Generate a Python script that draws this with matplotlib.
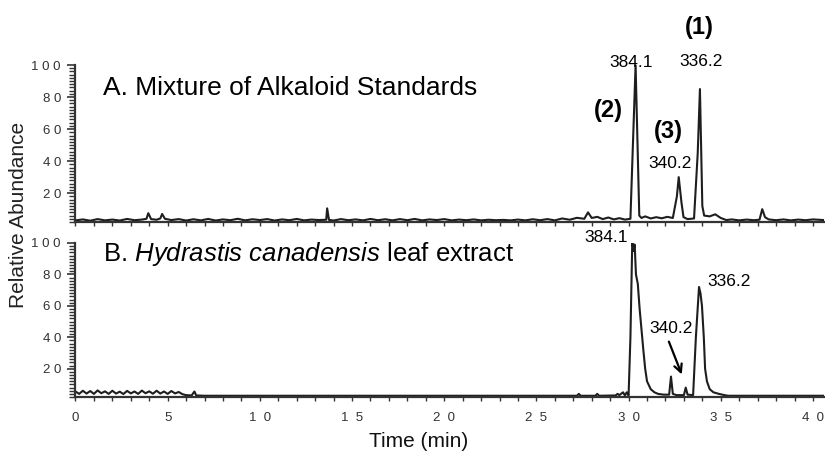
import matplotlib
matplotlib.use("Agg")
import matplotlib.pyplot as plt
from matplotlib.ticker import MultipleLocator, FixedLocator

plt.rcParams['font.family'] = ['Liberation Sans', 'DejaVu Sans']
plt.rcParams['mathtext.fontset'] = 'custom'
plt.rcParams['mathtext.rm'] = 'Liberation Sans'
plt.rcParams['mathtext.it'] = 'Liberation Sans:italic'

# trace A: mixture of alkaloid standards (time in min, relative abundance)
time_a = [0.0, 0.4, 0.8, 1.2, 1.6, 2.0, 2.4, 2.8, 3.2, 3.6,
          3.85, 3.95, 4.1, 4.4, 4.6, 4.7, 4.85, 5.2, 5.6, 6.0,
          6.4, 6.8, 7.2, 7.6, 8.0, 8.4, 8.8, 9.2, 9.6, 10.0,
          10.4, 10.8, 11.2, 11.6, 12.0, 12.4, 12.8, 13.2, 13.6, 13.65,
          13.75, 14.0, 14.4, 14.8, 15.2, 15.6, 16.0, 16.4, 16.8, 17.2,
          17.6, 18.0, 18.4, 18.8, 19.2, 19.6, 20.0, 20.4, 20.8, 21.2,
          21.6, 22.0, 22.4, 22.8, 23.2, 23.6, 24.0, 24.4, 24.8, 25.2,
          25.6, 26.0, 26.4, 26.8, 27.2, 27.6, 27.8, 28.0, 28.3, 28.6,
          28.9, 29.2, 29.5, 29.8, 30.1, 30.38, 30.58, 30.7, 30.9, 31.2,
          31.5, 31.8, 32.1, 32.4, 32.62, 32.72, 32.87, 32.98, 33.2, 33.55,
          33.75, 33.87, 34.0, 34.1, 34.4, 34.7, 35.0, 35.3, 35.6, 36.0,
          36.4, 36.8, 37.1, 37.25, 37.4, 37.6, 38.0, 38.4, 38.8, 39.2,
          39.6, 40.0, 40.6]
abund_a = [3.0, 3.6, 2.8, 3.8, 3.0, 3.5, 2.9, 3.9, 3.1, 3.5,
           4.0, 7.5, 3.8, 3.4, 4.2, 7.0, 4.0, 3.2, 3.8, 2.9,
           3.7, 3.0, 3.9, 2.9, 3.6, 3.1, 4.0, 3.0, 3.7, 3.2,
           3.8, 2.9, 3.6, 3.1, 3.9, 3.0, 3.5, 3.2, 3.4, 10.5,
           3.3, 2.9, 3.8, 3.1, 3.6, 3.0, 3.9, 3.1, 3.7, 3.0,
           3.8, 3.1, 3.9, 3.0, 3.6, 3.2, 3.8, 3.0, 3.5, 3.1,
           3.6, 3.0, 3.4, 3.1, 3.3, 3.0, 3.5, 3.0, 3.7, 3.1,
           3.8, 3.0, 4.2, 3.4, 4.6, 4.0, 8.0, 4.5, 5.2, 3.8,
           4.8, 3.6, 4.4, 3.5, 4.0, 100.0, 6.0, 4.5, 5.5, 4.2,
           5.0, 4.3, 5.2, 4.5, 18.0, 30.0, 14.0, 5.0, 3.8, 4.2,
           45.0, 85.0, 12.0, 6.0, 5.5, 6.8, 4.5, 3.2, 3.6, 3.0,
           3.5, 3.1, 3.4, 10.0, 5.0, 3.6, 3.1, 3.6, 3.0, 3.5,
           3.1, 3.6, 3.2]

# trace B: Hydrastis canadensis leaf extract
time_b = [0.0, 0.2, 0.4, 0.6, 0.8, 1.0, 1.2, 1.4, 1.6, 1.8,
          2.0, 2.2, 2.4, 2.6, 2.8, 3.0, 3.2, 3.4, 3.6, 3.8,
          4.0, 4.2, 4.4, 4.6, 4.8, 5.0, 5.2, 5.4, 5.6, 5.8,
          6.0, 6.3, 6.45, 6.55, 7.0, 10.0, 15.0, 20.0, 25.0, 27.2,
          27.3, 27.4, 28.2, 28.3, 28.4, 29.3, 29.4, 29.5, 29.7, 29.8,
          29.9, 30.0, 30.1, 30.2, 30.27, 30.33, 30.4, 30.5, 30.6, 30.7,
          30.8, 30.9, 31.0, 31.2, 31.4, 31.6, 31.9, 32.2, 32.3, 32.4,
          32.6, 33.0, 33.1, 33.2, 33.5, 33.65, 33.82, 33.9, 33.98, 34.08,
          34.15, 34.25, 34.4, 34.6, 34.9, 35.2, 35.4, 40.6]
abund_b = [5.5, 4.0, 6.0, 4.2, 5.8, 4.0, 6.2, 4.4, 5.6, 4.0,
           6.0, 4.2, 5.4, 3.9, 5.9, 4.3, 5.5, 4.0, 6.1, 4.4,
           5.6, 4.1, 6.0, 4.2, 5.5, 4.0, 5.8, 4.3, 5.2, 3.8,
           3.2, 3.0, 5.5, 3.0, 2.8, 2.8, 2.8, 2.8, 2.8, 2.8,
           4.0, 2.8, 2.8, 4.0, 2.8, 3.0, 4.0, 3.2, 5.0, 3.0,
           5.0, 3.0, 40.0, 101.0, 95.0, 99.0, 80.0, 74.0, 58.0, 45.0,
           32.0, 20.0, 12.0, 7.0, 5.0, 4.0, 3.5, 3.5, 15.0, 4.0,
           3.2, 3.2, 8.0, 3.5, 3.2, 40.0, 72.0, 68.0, 60.0, 40.0,
           20.0, 12.0, 7.0, 5.0, 4.0, 3.2, 2.8, 2.8]

y_ticks = [20, 40, 60, 80, 100]
y_tick_labels = ["2 0", "4 0", "6 0", "8 0", "1 0 0"]
x_ticks = [0, 5, 10, 15, 20, 25, 30, 35, 40]
x_tick_labels = ["0", "5", "1  0", "1  5", "2  0", "2  5", "3  0", "3  5", "4  0"]

line_color = "#1e1e1e"
tick_color = "#333333"

fig = plt.figure(figsize=(8.25, 4.51), dpi=100)
ax_a = fig.add_axes([0.0915, 0.5078, 0.9073, 0.348])
ax_b = fig.add_axes([0.0915, 0.1197, 0.9073, 0.3415])

for ax in (ax_a, ax_b):
    ax.set_xlim(0, 40.6)
    ax.set_ylim(2, 100)
    for side in ("top", "right"):
        ax.spines[side].set_visible(False)
    for side in ("left", "bottom"):
        ax.spines[side].set_linewidth(1.6)
        ax.spines[side].set_color(tick_color)
    ax.yaxis.set_major_locator(FixedLocator(y_ticks))
    ax.yaxis.set_minor_locator(MultipleLocator(2))
    ax.set_yticklabels(y_tick_labels)
    ax.xaxis.set_major_locator(FixedLocator(x_ticks))
    ax.xaxis.set_minor_locator(MultipleLocator(1))
    ax.tick_params(axis="y", which="major", length=6, width=1.2, pad=4.5,
                   labelsize=9.5, colors=tick_color)
    ax.tick_params(axis="y", which="minor", length=4, width=1.0, colors=tick_color)
    ax.tick_params(axis="x", which="both", length=3, width=1.0, pad=7.5,
                   labelsize=9.5, colors=tick_color)

ax_a.set_xticklabels([])
ax_b.set_xticklabels(x_tick_labels)

ax_a.plot(time_a, abund_a, color=line_color, lw=1.5)
ax_b.plot(time_b, abund_b, color=line_color, lw=1.5)

# panel titles
ax_a.text(1.49, 85.6, "A. Mixture of Alkaloid Standards", fontsize=19,
          va="center", ha="left")
ax_b.text(1.49, 93, r"B. $\it{Hydrastis\ canadensis}$ leaf extract",
          fontsize=18.5, va="center", ha="left")

# peak labels, panel A
lab = dict(fontsize=12.5, ha="center", va="center", clip_on=False)
bold = dict(fontsize=17, fontweight="bold", ha="center", va="center", clip_on=False)
ax_a.text(30.12, 101.3, "384.1", **lab)
ax_a.text(33.92, 101.9, "336.2", **lab)
ax_a.text(32.23, 38.8, "340.2", **lab)
ax_a.text(33.81, 123.7, "(1)", **bold)
ax_a.text(28.93, 71.9, "(2)", **bold)
ax_a.text(32.18, 58.2, "(3)", **bold)

# peak labels, panel B
ax_b.text(28.77, 103.8, "384.1", **lab)
ax_b.text(35.44, 75.8, "336.2", **lab)
ax_b.text(32.29, 45.3, "340.2", **lab)
ax_b.annotate("", xy=(32.94, 14.7), xytext=(32.13, 38.9),
              arrowprops=dict(arrowstyle="->", color="black", lw=1.6,
                              mutation_scale=14))

fig.text(0.023, 0.523, "Relative Abundance", rotation=90, fontsize=15,
         ha="center", va="center", color="#222222")
fig.text(0.508, 0.022, "Time (min)", fontsize=15, ha="center", va="center",
         color="#111111")

fig.savefig("out.png", dpi=100)
